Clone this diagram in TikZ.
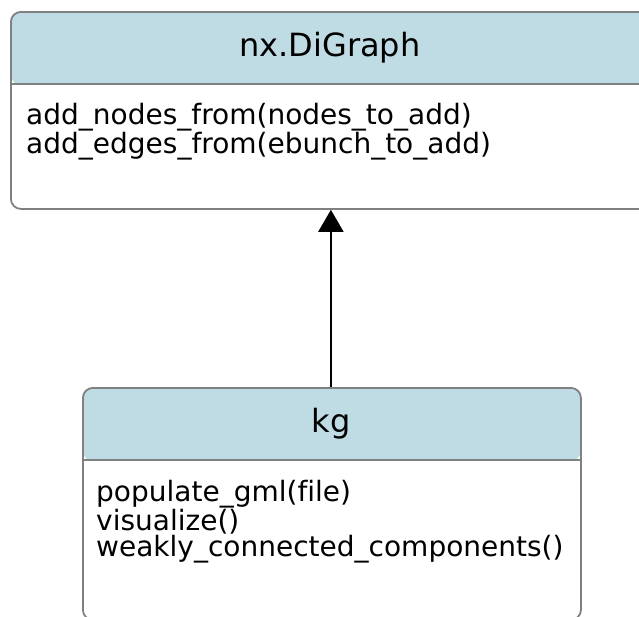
\documentclass[tikz,border=0pt]{standalone}
\usepackage{fontspec}
\setmainfont{DejaVu Sans}[Ligatures=NoCommon]
\usetikzlibrary{arrows.meta}

\definecolor{headblue}{RGB}{191,219,228}
\definecolor{boxgray}{RGB}{128,128,128}

\tikzset{
  classbox/.style={draw=boxgray, line width=1.8pt, rounded corners=10pt, inner sep=0pt,
    anchor=north west, fill=white,
    path picture={\fill[headblue] (path picture bounding box.north west) rectangle
      ([yshift=-73pt]path picture bounding box.north east);}},
  divider/.style={draw=boxgray, line width=1.8pt},
  classname/.style={font=\fontsize{32}{36}\selectfont, inner sep=0pt},
  methods/.style={font=\fontsize{28}{26.5}\selectfont, align=left, anchor=north west, inner sep=0pt},
}

\begin{document}
\begin{tikzpicture}[x=1pt,y=-1pt]
\useasboundingbox (0,0) rectangle (639,616);

% nx.DiGraph
\node[classbox, minimum width=640pt, minimum height=197pt] (digraph) at (10,11) {};
\draw[divider] ([yshift=-73pt]digraph.north west) -- ([yshift=-73pt]digraph.north east);
\node[classname] (digraphname) at (330,48) {nx.DiGraph};
\node[methods] (digraphops) at (26,103) {add\_nodes\_from(nodes\_to\_add)\\add\_edges\_from(ebunch\_to\_add)};

% kg
\node[classbox, minimum width=498pt, minimum height=232pt] (kg) at (82,387) {};
\draw[divider] ([yshift=-73pt]kg.north west) -- ([yshift=-73pt]kg.north east);
\node[classname] (kgname) at (331,424) {kg};
\node[methods] (kgops) at (96,480) {populate\_gml(file)\\visualize()\\weakly\_connected\_components()};

% inheritance
\draw[-{Triangle[length=22pt,width=25pt]}, line width=2pt] ([xshift=-1pt]kg.north) -- ([xshift=-1pt]kg.north |- digraph.south);
\end{tikzpicture}
\end{document}
